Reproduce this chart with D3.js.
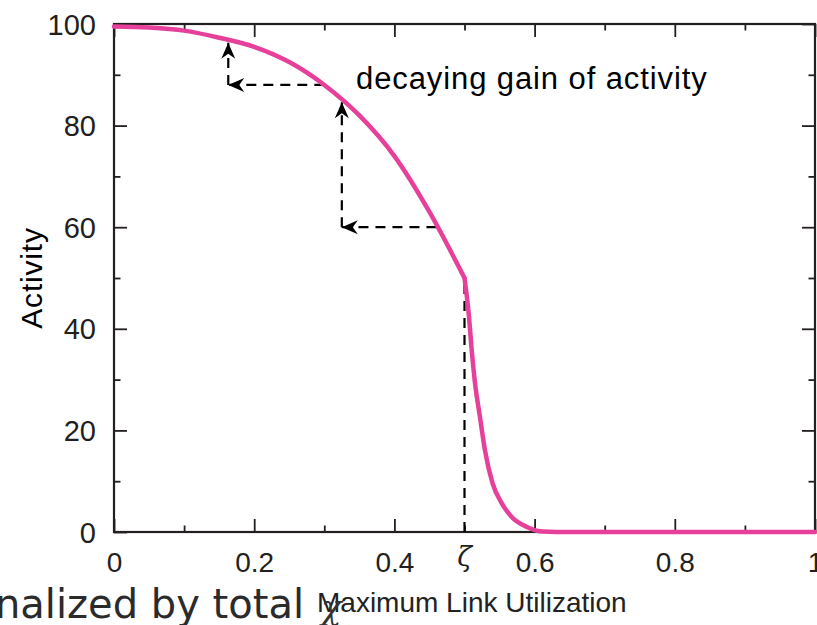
<!DOCTYPE html>
<html>
<head>
<meta charset="utf-8">
<script src="https://cdn.jsdelivr.net/npm/d3@7"></script>
<style>
    body { margin: 0; background: #fff; }
    svg { display: block; }
</style>
</head>
<body>
<svg id="chart" width="817" height="625"></svg>
<script>
// values
const utilization = [0, 0.05, 0.1, 0.15, 0.2, 0.25, 0.3, 0.35, 0.4, 0.45, 0.5,
    0.5064, 0.5102, 0.515, 0.522, 0.529, 0.540, 0.553, 0.567, 0.589, 0.612, 0.65, 0.8, 1];
const activity = [99.5, 99.3, 98.7, 97.3, 95.5, 92.5, 88, 82, 74, 63, 50,
    42.4, 35.9, 29.3, 22.7, 16.2, 9.6, 5.7, 3.0, 1.0, 0.1, 0, 0, 0];

const xMajor = [0, 0.2, 0.4, 0.6, 0.8, 1];
const xMinor = [0.1, 0.3, 0.5, 0.7, 0.9];
const yMajor = [0, 20, 40, 60, 80, 100];
const yMinor = [10, 30, 50, 70, 90];
const zeta = 0.5;

// dashed annotation arrows: [x1, y1, x2, y2] in data units
const arrowSegs = [
    [0.163, 88, 0.163, 96.3],
    [0.300, 88, 0.163, 88],
    [0.325, 60, 0.325, 84.6],
    [0.460, 60, 0.325, 60]
];

const margin = {top: 24, right: 2, bottom: 93, left: 114};
const svg = d3.select("#chart");
const width = 817, height = 625;
const innerWidth = width - margin.left - margin.right;
const innerHeight = height - margin.top - margin.bottom;

const ink = "#231f20";
const font = "'Liberation Sans', Arial, Helvetica, sans-serif";

const x = d3.scaleLinear().domain([0, 1]).range([0, innerWidth]);
const y = d3.scaleLinear().domain([0, 100]).range([innerHeight, 0]);

const g = svg.append("g").attr("transform", `translate(${margin.left},${margin.top})`);

// ticks (inward, mirrored on all four sides)
function tickAxis(axis, size, labels, transform, fs) {
    let a = axis.tickSizeInner(-size).tickSizeOuter(0);
    if (!labels) a = a.tickFormat("");
    const ag = g.append("g").attr("transform", transform).call(a);
    ag.select(".domain").remove();
    ag.selectAll(".tick line").attr("stroke", ink).attr("stroke-width", 1.8);
    ag.selectAll("text").attr("fill", ink).style("font-family", font).style("font-size", (fs || 28) + "px");
    return ag;
}

tickAxis(d3.axisBottom(x).tickValues(xMajor).tickPadding(20).tickFormat(d3.format("")), 13, true, `translate(0,${innerHeight})`);
tickAxis(d3.axisBottom(x).tickValues(xMinor), 6.5, false, `translate(0,${innerHeight})`);
tickAxis(d3.axisTop(x).tickValues(xMajor), 13, false, "translate(0,0)");
tickAxis(d3.axisTop(x).tickValues(xMinor), 6.5, false, "translate(0,0)");
tickAxis(d3.axisLeft(y).tickValues(yMajor).tickPadding(18), 13, true, "translate(0,0)", 29)
    .selectAll("text").attr("dy", "0.35em");
tickAxis(d3.axisLeft(y).tickValues(yMinor), 6.5, false, "translate(0,0)");
tickAxis(d3.axisRight(y).tickValues(yMajor), 13, false, `translate(${innerWidth},0)`);
tickAxis(d3.axisRight(y).tickValues(yMinor), 6.5, false, `translate(${innerWidth},0)`);

// frame
g.append("rect")
    .attr("x", 0).attr("y", 0)
    .attr("width", innerWidth).attr("height", innerHeight)
    .attr("fill", "none")
    .attr("stroke", ink)
    .attr("stroke-width", 2.2);

// arrow head
svg.append("defs").append("marker")
    .attr("id", "head")
    .attr("markerUnits", "userSpaceOnUse")
    .attr("viewBox", "-17 -8 19 16")
    .attr("refX", 0).attr("refY", 0)
    .attr("markerWidth", 19).attr("markerHeight", 16)
    .attr("orient", "auto")
    .append("path")
    .attr("d", "M0,0 L-16,-7 L-11,0 L-16,7 Z")
    .attr("fill", "#000");

// zeta guide
g.append("line")
    .attr("x1", x(zeta)).attr("x2", x(zeta))
    .attr("y1", y(0)).attr("y2", y(50))
    .attr("stroke", "#000")
    .attr("stroke-width", 2.2)
    .attr("stroke-dasharray", "10,7");

g.selectAll(".arrow")
    .data(arrowSegs)
    .enter()
    .append("line")
    .attr("class", "arrow")
    .attr("x1", d => x(d[0])).attr("y1", d => y(d[1]))
    .attr("x2", d => x(d[2])).attr("y2", d => y(d[3]))
    .attr("stroke", "#000")
    .attr("stroke-width", 2.2)
    .attr("stroke-dasharray", "10,7")
    .attr("marker-end", "url(#head)");

// activity curve, split at zeta so the corner stays sharp
const pts = utilization.map((u, i) => [u, activity[i]]);
const k = utilization.indexOf(zeta);
const line = d3.line().x(d => x(d[0])).y(d => y(d[1])).curve(d3.curveMonotoneX);
g.selectAll(".curve")
    .data([pts.slice(0, k + 1), pts.slice(k)])
    .enter()
    .append("path")
    .attr("class", "curve")
    .attr("fill", "none")
    .attr("stroke", "#e6409a")
    .attr("stroke-width", 4.5)
    .attr("stroke-linecap", "round")
    .attr("stroke-linejoin", "round")
    .attr("d", line);

// texts
svg.append("text")
    .attr("x", 356).attr("y", 89)
    .style("font-family", font).style("font-size", "31px")
    .attr("letter-spacing", 0.9)
    .attr("fill", "#000")
    .text("decaying gain of activity");

svg.append("text")
    .attr("transform", "translate(42,278) rotate(-90)")
    .attr("text-anchor", "middle")
    .style("font-family", font).style("font-size", "30px")
    .attr("letter-spacing", 0.8)
    .attr("fill", "#000")
    .text("Activity");

svg.append("text")
    .attr("x", margin.left + x(zeta)).attr("y", 566)
    .attr("text-anchor", "middle")
    .style("font-family", "'DejaVu Serif', 'Liberation Serif', serif")
    .style("font-style", "italic")
    .style("font-size", "27px")
    .attr("fill", ink)
    .text("ζ");

svg.append("text")
    .attr("x", -5).attr("y", 618)
    .style("font-family", "'DejaVu Sans', Verdana, sans-serif")
    .style("font-size", "40px")
    .attr("fill", "#2b2b2b")
    .text("nalized by total");

svg.append("text")
    .attr("x", 317).attr("y", 612)
    .style("font-family", font).style("font-size", "28px")
    .attr("fill", "#222")
    .text("Maximum Link Utilization");

svg.append("text")
    .attr("x", 321).attr("y", 619)
    .style("font-family", "'DejaVu Serif', 'Liberation Serif', serif")
    .style("font-style", "italic")
    .style("font-size", "34px")
    .attr("fill", "#333")
    .text("χ");
</script>
</body>
</html>
